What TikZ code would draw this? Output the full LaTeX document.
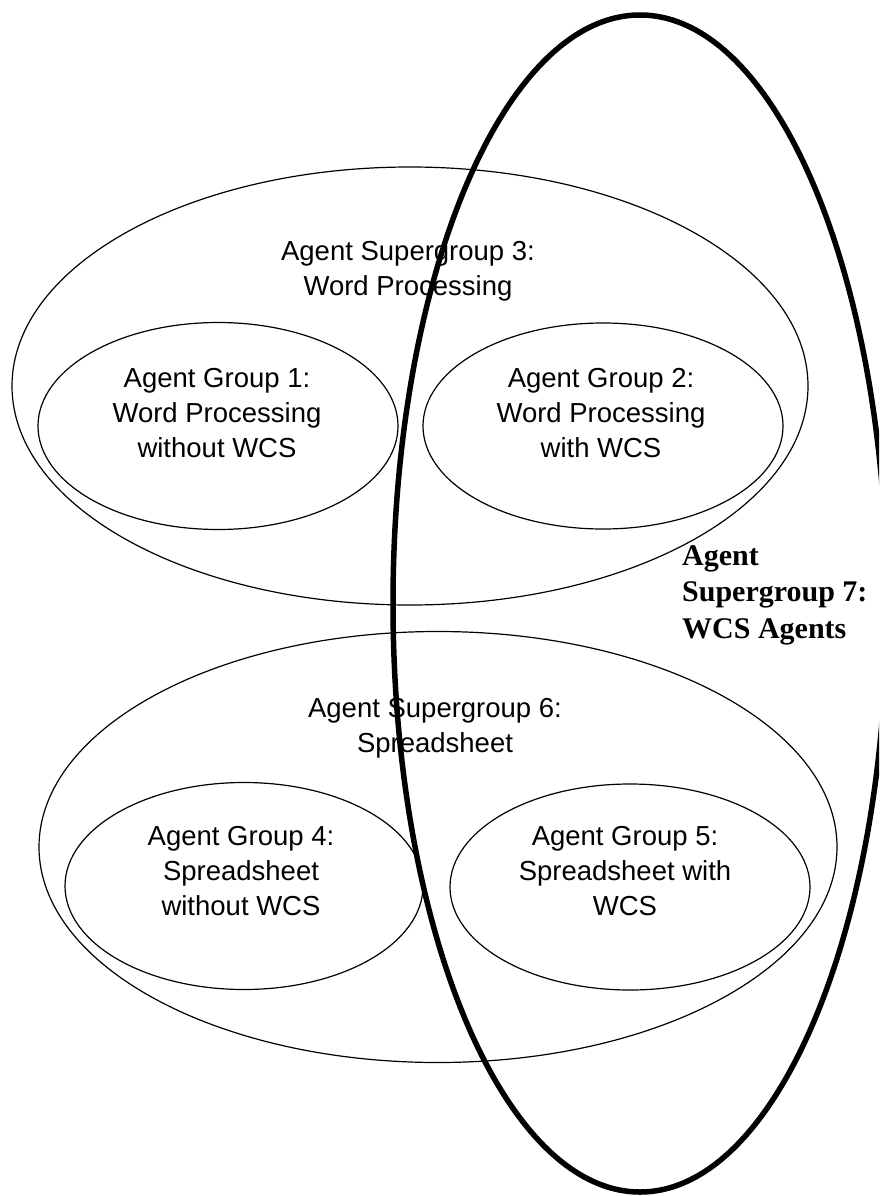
\documentclass[tikz,border=0pt]{standalone}
\usepackage{fontspec}
\setmainfont{Liberation Sans}
\newfontfamily\serifbold{Liberation Serif}
\usetikzlibrary{shapes.geometric}
\begin{document}
\begin{tikzpicture}[x=1pt,y=1pt,
  thinset/.style={ellipse,draw=black,line width=1.2pt,inner sep=0pt,outer sep=0pt},
  thickset/.style={ellipse,draw=black,line width=5.5pt,inner sep=0pt,outer sep=0pt},
  lbl/.style={align=center,inner sep=0pt,font=\fontsize{27.5}{35}\selectfont,anchor=base},
  boldlbl/.style={align=left,inner sep=0pt,font=\serifbold\bfseries\fontsize{30}{36.5}\selectfont,anchor=base west}]
\clip (0,0) rectangle (879,-1196);
\fill[white] (0,0) rectangle (879,-1196);

% labels of the groups (placed by the baseline of their last line)
\node[lbl] (t3) at (408,-295) {Agent Supergroup 3:\\Word Processing};
\node[lbl] (t1) at (217,-457) {Agent Group 1:\\Word Processing\\without WCS};
\node[lbl] (t2) at (601,-457) {Agent Group 2:\\Word Processing\\with WCS};
\node[lbl] (t6) at (435,-752) {Agent Supergroup 6:\\Spreadsheet};
\node[lbl] (t4) at (241,-915) {Agent Group 4:\\Spreadsheet\\without WCS};
\node[lbl] (t5) at (625,-915) {Agent Group 5:\\Spreadsheet with\\WCS};
\node[boldlbl] (t7) at (682,-638) {Agent\\Supergroup 7:\\WCS Agents};

% supergroups and groups
\node[thinset,minimum width=796pt,minimum height=438pt] (sg3) at (410,-386) {};
\node[thinset,minimum width=360pt,minimum height=207pt] (g1) at (218,-426) {};
\node[thinset,minimum width=360pt,minimum height=206pt] (g2) at (603,-426) {};
\node[thinset,minimum width=798pt,minimum height=431pt] (sg6) at (438,-847) {};
\node[thinset,minimum width=358pt,minimum height=207pt] (g4) at (244,-886) {};
\node[thinset,minimum width=360pt,minimum height=206pt] (g5) at (630,-887) {};

% the WCS supergroup cuts across both
\node[thickset,minimum width=494pt,minimum height=1177pt] (sg7) at (640,-603.5) {};
\end{tikzpicture}
\end{document}
